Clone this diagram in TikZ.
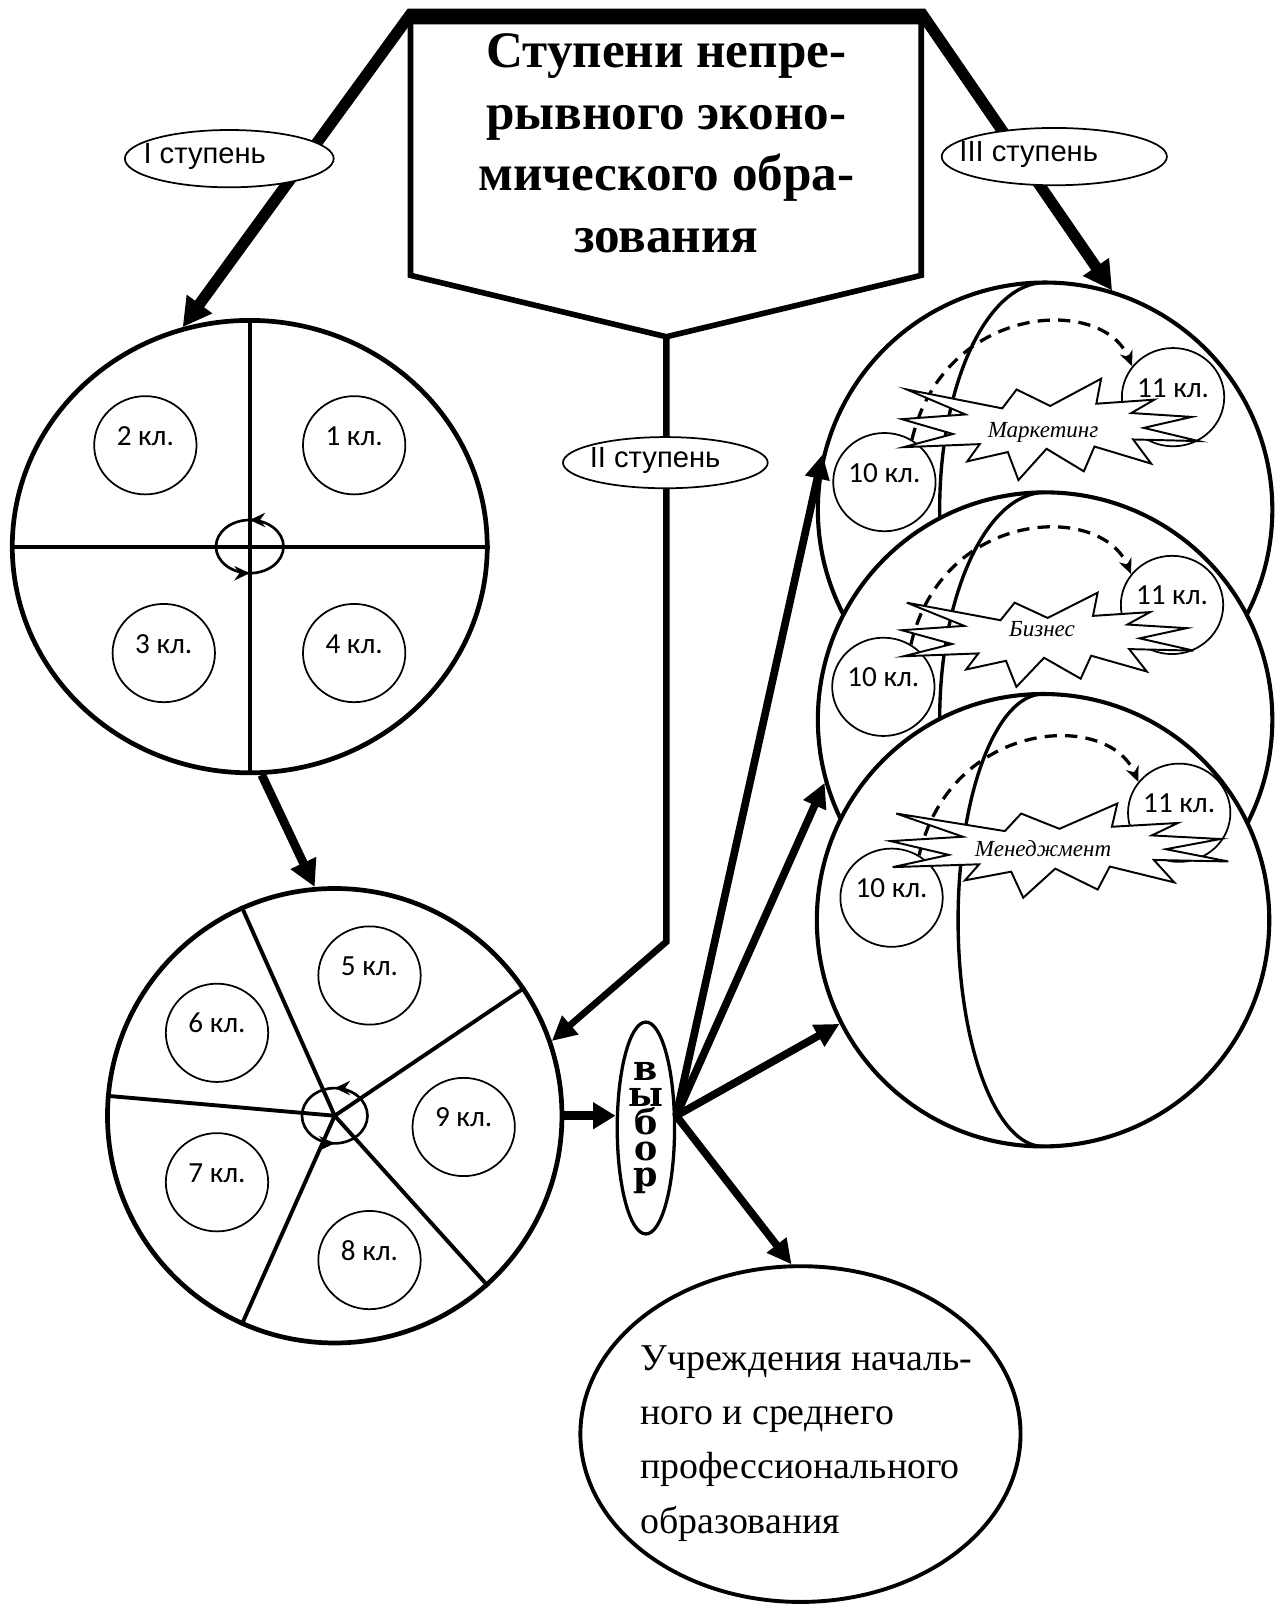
\documentclass[tikz,border=0pt]{standalone}
\usepackage{fontspec}
\setmainfont{Liberation Serif}
\newfontfamily\arialf{Liberation Sans}
\newfontfamily\calibf{Carlito}
\newfontfamily\slabf{DejaVu Serif}
\usetikzlibrary{arrows.meta,shapes.geometric,decorations.markings}

% explosion-shaped outline fitted into the box (x0,y0,width,height)
\newcommand\drawburst[4]{%
  \draw[burstline, shift={(#1,#2)}, x=#3pt, y=-#4pt]
    (0.5000,0.2685) -- (0.6714,0.0000) -- (0.6553,0.2465) -- (0.8509,0.2064)
    -- (0.7732,0.3386) -- (0.9767,0.3767) -- (0.8151,0.4850) -- (1.0000,0.6153)
    -- (0.7795,0.5992) -- (0.8401,0.8377) -- (0.6491,0.6693) -- (0.6133,0.9137)
    -- (0.4876,0.6914) -- (0.3929,1.0000) -- (0.3572,0.7235) -- (0.2205,0.8156)
    -- (0.2624,0.6452) -- (0.0063,0.6753) -- (0.1723,0.5451) -- (0.0000,0.3988)
    -- (0.2142,0.3526) -- (0.0171,0.1063) -- (0.3385,0.2926) -- (0.3867,0.1063)
    -- cycle;}

\tikzset{
  bigtip/.tip={Triangle[length=28pt,width=29pt]},
  midtip/.tip={Triangle[length=24pt,width=23pt]},
  ring/.style={draw, ellipse, line width=4.6pt, inner sep=0pt, fill=white},
  divider/.style={line width=3.8pt},
  gradec/.style={draw, ellipse, line width=1.7pt, inner sep=0pt, fill=white,
    minimum width=100pt, minimum height=96pt,
    text height=10pt, text depth=10pt,
    font=\calibf\fontsize{28.5}{30}\selectfont},
  spin/.style={line width=2.6pt, postaction={decorate},
    decoration={markings,
      mark=at position 0.25 with {\arrowreversed{Stealth[length=15pt,width=14pt]}},
      mark=at position 0.75 with {\arrowreversed{Stealth[length=15pt,width=14pt]}}}},
  globe/.style={draw, circle, line width=4pt, inner sep=0pt, fill=white},
  meridian/.style={line width=3.3pt},
  burstline/.style={draw, fill=white, line width=1.9pt, line join=miter},
  bursttext/.style={font=\itshape\fontsize{22.5}{24}\selectfont},
  leap/.style={line width=3.2pt, dash pattern=on 12pt off 8pt,
    -{Stealth[length=15pt,width=13pt]}},
  stagebox/.style={draw, ellipse, line width=1.7pt, fill=white, inner sep=0pt},
  stagetxt/.style={font=\arialf\fontsize{28.5}{30}\selectfont},
  heavy/.style={line width=11pt, line join=miter},
  fanline/.style={line width=7.5pt}
}

\begin{document}
\begin{tikzpicture}[x=1pt, y=-1pt]
\useasboundingbox (0,0) rectangle (1245,1568);
\fill[white] (0,0) rectangle (1245,1568);

% ---------- heading ----------
\coordinate (tl) at (401,14);
\coordinate (tr) at (901,14);
\coordinate (hbl) at (401,21);
\coordinate (hbr) at (900,21);
\coordinate (hpt) at (651,329);
\draw[line width=5.5pt, line join=miter] (hbl) -- (401,269) -- (hpt) -- (900,269) -- (hbr) -- cycle;
\node[align=center, font=\bfseries\fontsize{50}{60.5}\selectfont] (title) at (651,140)
  {Ступени непре-\\рывного эконо-\\мического обра-\\зования};

% ---------- stage I: grades 1-4 ----------
\node[ring, minimum width=464pt, minimum height=442pt] (c1) at (244,534) {};
\draw[divider] (c1.north) -- (c1.south);
\draw[divider] (c1.west) -- (c1.east);
\draw[spin] (c1.center) ellipse[x radius=33, y radius=26];
\node[gradec] (k1) at (346,435) {1 кл.};
\node[gradec] (k2) at (142,435) {2 кл.};
\node[gradec] (k3) at (160,638) {3 кл.};
\node[gradec] (k4) at (346,638) {4 кл.};

% ---------- stage II: grades 5-9 ----------
\node[ring, minimum width=444pt, minimum height=444pt] (c2) at (327,1090) {};
\foreach \a in {114.4,34.8,-48.5,-114.2,175.3}
  \draw[divider] (c2.center) -- (c2.\a);
\draw[spin] (c2.center) ellipse[x radius=32, y radius=27];
\node[gradec] (k5) at (361,953) {5 кл.};
\node[gradec] (k6) at (212,1009) {6 кл.};
\node[gradec] (k9) at (453,1101) {9 кл.};
\node[gradec] (k7) at (212,1155) {7 кл.};
\node[gradec] (k8) at (361,1231) {8 кл.};

% ---------- stage III: three profiles ----------
% Marketing
\node[globe, minimum size=444pt] (s1) at (1021,498) {};
\draw[meridian] (s1.center) ++(0,-222) arc[start angle=270, end angle=90, x radius=103, y radius=222];
\node[gradec] (m10) at (864,471) {10 кл.};
\node[gradec] (m11) at (1146,388) {11 кл.};
\draw[leap] (m10.57) .. controls +(31,-133) and +(-29,-70) .. (m11.143);
\drawburst{881}{370}{290}{99}
\node[bursttext] (mlab) at (1019,422) {Маркетинг};

% Business
\node[globe, minimum size=444pt] (s2) at (1021,703) {};
\draw[meridian] (s2.center) ++(0,-222) arc[start angle=270, end angle=90, x radius=103, y radius=222];
\node[gradec] (b10) at (863,671) {10 кл.};
\node[gradec] (b11) at (1145,591) {11 кл.};
\draw[leap] (b10.57) .. controls +(31,-133) and +(-29,-70) .. (b11.143);
\drawburst{881}{579}{285}{92}
\node[bursttext] (blab) at (1018,615) {Бизнес};

% Management
\node[globe, minimum size=442pt] (s3) at (1019,899) {};
\draw[meridian] (s3.center) ++(0,-221) arc[start angle=270, end angle=90, x radius=83, y radius=221];
\node[gradec] (g10) at (871,877) {10 кл.};
\node[gradec] (g11) at (1152,794) {11 кл.};
\draw[leap] (g10.57) .. controls +(31,-133) and +(-29,-70) .. (g11.143);
\drawburst{870}{785}{330}{92}
\node[bursttext] (glab) at (1019,829) {Менеджмент};

% ---------- choice and vocational schools ----------
\node[draw, ellipse, line width=3.2pt, minimum width=56pt, minimum height=207pt, inner sep=0pt,
      fill=white, align=center, font=\slabf\bfseries\fontsize{34}{25.5}\selectfont]
  (vybor) at (631,1102) {в\\ы\\б\\о\\р};
\coordinate (fan) at (vybor.east |- c2.east);
\node[draw, ellipse, line width=3.8pt, minimum width=430pt, minimum height=328pt, inner sep=0pt]
  (ub) at (782,1401) {};
\node[anchor=west, align=left, font=\fontsize{37}{53}\selectfont] (utxt) at (622,1410)
  {Учреждения началь-\\ного и среднего\\профессионального\\образования};

% ---------- connectors ----------
\draw[heavy, bigtip-bigtip] (c1.107) -- (tl) -- (tr) -- (s1.73);
\draw[line width=6.5pt, line join=miter, -midtip] (hpt) -- (651,920) -- (c2.19);
\draw[line width=8.5pt, -{Triangle[length=26pt,width=26pt]}] (c1.-87) -- (c2.95);
\draw[line width=8.5pt, -{Triangle[length=22pt,width=25pt]}] (c2.east) -- (c2.east -| vybor.west);
\draw[fanline, -midtip] (fan) -- (s1.166);
\draw[fanline, -midtip] (fan) -- (s2.196);
\draw[fanline, -midtip] (fan) -- (s3.207);
\draw[fanline, -midtip] (fan) -- (ub.93);

% ---------- stage labels ----------
\node[stagebox, minimum width=204pt, minimum height=56pt] (st1) at (224,155) {};
\node[stagetxt] (st1t) at (200,153) {I ступень};
\node[stagebox, minimum width=200pt, minimum height=50pt] (st2) at (650,452) {};
\node[stagetxt] (st2t) at (640,450) {II ступень};
\node[stagebox, minimum width=220pt, minimum height=56pt] (st3) at (1030,153) {};
\node[stagetxt] (st3t) at (1005,151) {III ступень};
\end{tikzpicture}
\end{document}
